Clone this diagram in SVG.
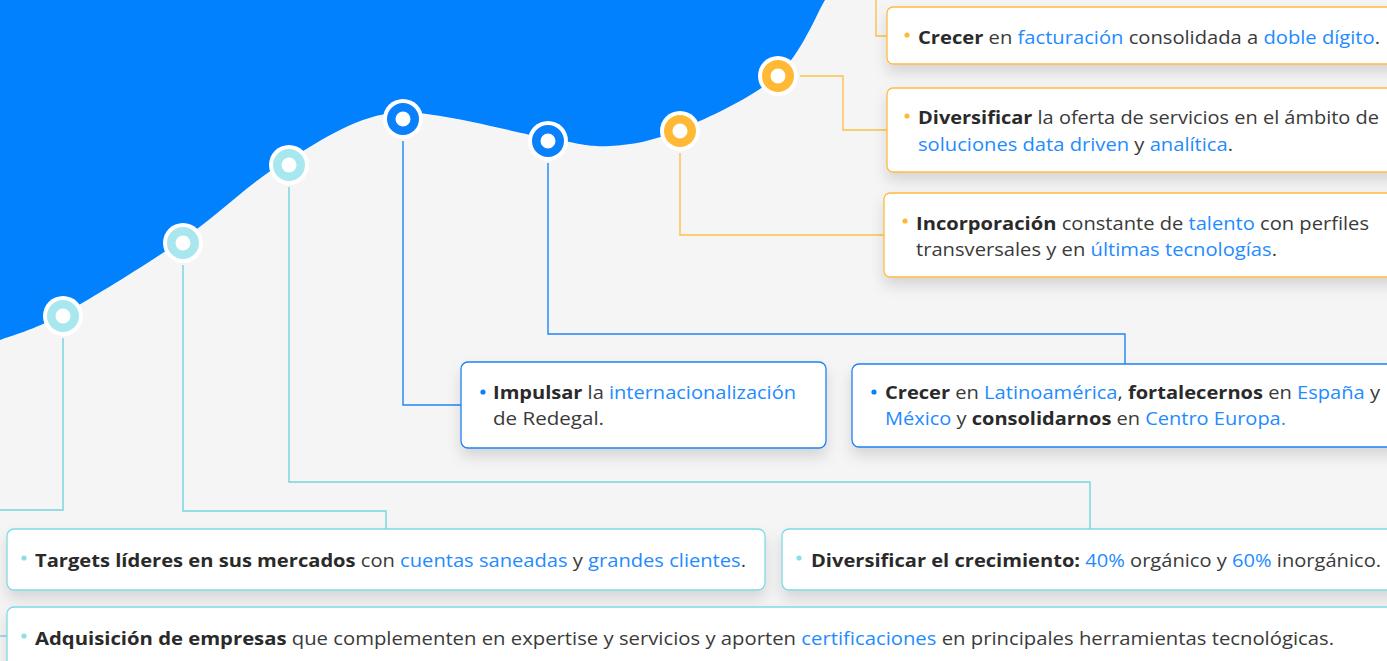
<svg xmlns="http://www.w3.org/2000/svg" width="1387" height="661" viewBox="0 0 1387 661">
<style>
text{font-family:"Open Sans","Liberation Sans",sans-serif;font-size:17.5px;fill:#3a3a3a}
.b{font-weight:700;fill:#2a2a2a}
.u{fill:#1f8bff}
.box{fill:#fff;stroke-width:1.3}
.bo{stroke:#ffbb3f}
.bb{stroke:#1c82f5}
.bc{stroke:#7fd9e4}
.lo{fill:none;stroke:#ffc04a;stroke-width:1.4}
.lb{fill:none;stroke:#1f85f7;stroke-width:1.4}
.lc{fill:none;stroke:#76d3e0;stroke-width:1.4}
.halo{fill:#fff}
.ring{fill:#fff;stroke-width:8.5}
</style>
<defs>
<filter id="sh" x="-10%" y="-30%" width="120%" height="180%">
<feDropShadow dx="0" dy="8" stdDeviation="7" flood-color="#000" flood-opacity="0.13"/>
</filter>
</defs>
<rect x="0" y="0" width="1387" height="661" fill="#f5f5f5"/>
<path d="M0,0 L825,0 C817,12.7 801.3,54.3 777,76 C752.7,97.7 706.8,118.3 679,130 C651.2,141.7 632,144.7 610,146 C588,147.3 582,143.7 547,138 C512,132.3 443,112 400,112 C356.8,115.3 324.3,138.7 288,160 C251.3,180.7 219.5,214.3 182,240 C144.5,265.7 93.3,297.3 63,314 C32.7,330.7 10.5,335.7 0,340 Z" fill="#0181fd"/>
<g id="connectors">
<polyline class="lo" points="876,0 876,36 887,36"/>
<polyline class="lo" points="800,76 843,76 843,130 887,130"/>
<polyline class="lo" points="680,153 680,235 884,235"/>
<polyline class="lb" points="548,163 548,334 1125,334 1125,364"/>
<polyline class="lb" points="403,141 403,405 461,405"/>
<polyline class="lc" points="289,187 289,482 1090,482 1090,529"/>
<polyline class="lc" points="183,265 183,511 386,511 386,529"/>
<polyline class="lc" points="63,338 63,510 0,510"/>
<polyline class="lc" points="0,636 7,636"/>
</g>
<g id="node-dots">
<g id="dot1"><circle class="halo" cx="63" cy="316" r="20"/><circle class="ring" cx="63" cy="316" r="11.75" stroke="#a9e7ef"/></g>
<g id="dot2"><circle class="halo" cx="183" cy="243" r="20"/><circle class="ring" cx="183" cy="243" r="11.75" stroke="#a9e7ef"/></g>
<g id="dot3"><circle class="halo" cx="289" cy="165" r="20"/><circle class="ring" cx="289" cy="165" r="11.75" stroke="#a9e7ef"/></g>
<g id="dot4"><circle class="halo" cx="403" cy="119" r="20"/><circle class="ring" cx="403" cy="119" r="11.75" stroke="#0a80fb"/></g>
<g id="dot5"><circle class="halo" cx="548" cy="141" r="20"/><circle class="ring" cx="548" cy="141" r="11.75" stroke="#0a80fb"/></g>
<g id="dot6"><circle class="halo" cx="680" cy="131" r="20"/><circle class="ring" cx="680" cy="131" r="11.75" stroke="#ffb935"/></g>
<g id="dot7"><circle class="halo" cx="778" cy="76" r="20"/><circle class="ring" cx="778" cy="76" r="11.75" stroke="#ffb935"/></g>
</g>
<g id="box-facturacion">
<rect class="box bo" x="887" y="7" width="520" height="57" rx="6" filter="url(#sh)"/>
<circle cx="907" cy="35" r="2.6" fill="#ffb935"/>
<text x="918" y="44" textLength="462" lengthAdjust="spacingAndGlyphs"><tspan class="b">Crecer</tspan> en <tspan class="u">facturación</tspan> consolidada a <tspan class="u">doble dígito</tspan>.</text>
</g>
<g id="box-diversificar-oferta">
<rect class="box bo" x="887" y="88" width="520" height="84" rx="6" filter="url(#sh)"/>
<circle cx="907" cy="116" r="2.6" fill="#ffb935"/>
<text x="918" y="124" textLength="461" lengthAdjust="spacingAndGlyphs"><tspan class="b">Diversificar</tspan> la oferta de servicios en el ámbito de</text>
<text x="918" y="151" textLength="315" lengthAdjust="spacingAndGlyphs"><tspan class="u">soluciones data driven</tspan> y <tspan class="u">analítica</tspan>.</text>
</g>
<g id="box-talento">
<rect class="box bo" x="884" y="193" width="520" height="84" rx="6" filter="url(#sh)"/>
<circle cx="905" cy="221" r="2.6" fill="#ffb935"/>
<text x="916" y="230" textLength="453" lengthAdjust="spacingAndGlyphs"><tspan class="b">Incorporación</tspan> constante de <tspan class="u">talento</tspan> con perfiles</text>
<text x="916" y="256" textLength="361" lengthAdjust="spacingAndGlyphs">transversales y en <tspan class="u">últimas tecnologías</tspan>.</text>
</g>
<g id="box-internacionalizacion">
<rect class="box bb" x="461" y="362" width="365" height="86" rx="7" filter="url(#sh)"/>
<circle cx="483" cy="392" r="2.6" fill="#0a80fb"/>
<text x="493" y="399" textLength="303" lengthAdjust="spacingAndGlyphs"><tspan class="b">Impulsar</tspan> la <tspan class="u">internacionalización</tspan></text>
<text x="493" y="425" textLength="111" lengthAdjust="spacingAndGlyphs">de Redegal.</text>
</g>
<g id="box-latinoamerica">
<rect class="box bb" x="852" y="364" width="560" height="83" rx="7" filter="url(#sh)"/>
<circle cx="874" cy="392" r="2.6" fill="#0a80fb"/>
<text x="885" y="399" textLength="495" lengthAdjust="spacingAndGlyphs"><tspan class="b">Crecer</tspan> en <tspan class="u">Latinoamérica</tspan>, <tspan class="b">fortalecernos</tspan> en <tspan class="u">España</tspan> y</text>
<text x="885" y="425" textLength="401" lengthAdjust="spacingAndGlyphs"><tspan class="u">México</tspan> y <tspan class="b">consolidarnos</tspan> en <tspan class="u">Centro Europa.</tspan></text>
</g>
<g id="box-targets">
<rect class="box bc" x="7" y="529" width="758" height="61" rx="7" filter="url(#sh)"/>
<circle cx="24" cy="558" r="2.6" fill="#8fdde8"/>
<text x="35" y="567" textLength="711" lengthAdjust="spacingAndGlyphs"><tspan class="b">Targets líderes en sus mercados</tspan> con <tspan class="u">cuentas saneadas</tspan> y <tspan class="u">grandes clientes</tspan>.</text>
</g>
<g id="box-crecimiento">
<rect class="box bc" x="782" y="529" width="630" height="61" rx="7" filter="url(#sh)"/>
<circle cx="799" cy="558" r="2.6" fill="#8fdde8"/>
<text x="811" y="567" textLength="570" lengthAdjust="spacingAndGlyphs"><tspan class="b">Diversificar el crecimiento:</tspan> <tspan class="u">40%</tspan> orgánico y <tspan class="u">60%</tspan> inorgánico.</text>
</g>
<g id="box-adquisicion">
<rect class="box bc" x="7" y="607" width="1410" height="90" rx="7" filter="url(#sh)"/>
<circle cx="24" cy="636" r="2.6" fill="#8fdde8"/>
<text x="35" y="645" textLength="1299" lengthAdjust="spacingAndGlyphs"><tspan class="b">Adquisición de empresas</tspan> que complementen en expertise y servicios y aporten <tspan class="u">certificaciones</tspan> en principales herramientas tecnológicas.</text>
</g>
</svg>
